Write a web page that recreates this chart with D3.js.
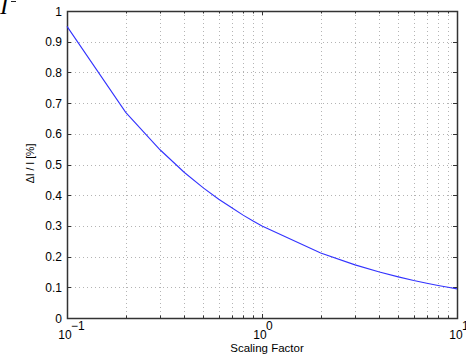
<!DOCTYPE html>
<html>
<head>
<meta charset="utf-8">
<script src="https://cdn.jsdelivr.net/npm/d3@7"></script>
<style>
  body { margin: 0; background: #fff; }
  text { font-family: "Liberation Sans", Arial, sans-serif; fill: #000; }
</style>
</head>
<body>
<div id="chart"></div>
<script>
// values
const scaling = [0.1, 0.2, 0.3, 0.4, 0.5, 0.6, 0.7, 0.8, 0.9, 1, 2, 3, 4, 5, 6, 7, 8, 9, 10];
const deltaI = [0.95, 0.67, 0.548, 0.474, 0.424, 0.387, 0.359, 0.335, 0.316, 0.30,
  0.212, 0.173, 0.15, 0.134, 0.122, 0.113, 0.106, 0.1, 0.095];
const yTicks = [0, 0.1, 0.2, 0.3, 0.4, 0.5, 0.6, 0.7, 0.8, 0.9, 1];
const xMajor = [0.1, 1, 10];
const xExp = ['−1', '0', '1'];

const W = 466, H = 356;
const margin = { top: 11, right: 9, bottom: 38, left: 67 };
const width = W - margin.left - margin.right;
const height = H - margin.top - margin.bottom;

const svg = d3.select('#chart').append('svg')
  .attr('width', W).attr('height', H);

// cropped glyph at the top-left corner
svg.append('text')
  .attr('x', 0).attr('y', 14)
  .style('font-family', '"Liberation Serif", "Times New Roman", serif')
  .style('font-style', 'italic')
  .style('font-size', '24px')
  .text('I');
svg.append('line')
  .attr('x1', 11).attr('x2', 16).attr('y1', 1.5).attr('y2', 1.5)
  .attr('stroke', '#222').attr('stroke-width', 1);

const g = svg.append('g')
  .attr('transform', `translate(${margin.left},${margin.top})`);

const x = d3.scaleLog().domain([0.1, 10]).range([0, width]);
const y = d3.scaleLinear().domain([0, 1]).range([height, 0]);

// grid: all decade + minor positions
const xGrid = [];
[0.1, 1].forEach(d => { for (let k = 1; k <= 10; k++) xGrid.push(d * k); });
const xGridU = [...new Set(xGrid.map(v => +v.toPrecision(3)))].filter(v => v > 0.1 && v < 10);

g.selectAll('.vgrid').data(xGridU).enter().append('line')
  .attr('class', 'vgrid')
  .attr('x1', d => Math.round(x(d)) + 0.5).attr('x2', d => Math.round(x(d)) + 0.5)
  .attr('y1', 0).attr('y2', height)
  .attr('stroke', '#b4b4b4').attr('stroke-width', 1)
  .attr('stroke-dasharray', '1,3');

g.selectAll('.hgrid').data(yTicks.slice(1, -1)).enter().append('line')
  .attr('class', 'hgrid')
  .attr('x1', 0).attr('x2', width)
  .attr('y1', d => Math.round(y(d)) + 0.5).attr('y2', d => Math.round(y(d)) + 0.5)
  .attr('stroke', '#b4b4b4').attr('stroke-width', 1)
  .attr('stroke-dasharray', '1,3');

// inward ticks on all four sides
const tickLen = 4;
g.selectAll('.ytl').data(yTicks).enter().append('line')
  .attr('x1', 0).attr('x2', tickLen)
  .attr('y1', d => Math.round(y(d)) + 0.5).attr('y2', d => Math.round(y(d)) + 0.5)
  .attr('stroke', '#333');
g.selectAll('.ytr').data(yTicks).enter().append('line')
  .attr('x1', width - tickLen).attr('x2', width)
  .attr('y1', d => Math.round(y(d)) + 0.5).attr('y2', d => Math.round(y(d)) + 0.5)
  .attr('stroke', '#333');
const xAllTicks = xGridU.concat(xMajor);
g.selectAll('.xtb').data(xAllTicks).enter().append('line')
  .attr('x1', d => Math.round(x(d)) + 0.5).attr('x2', d => Math.round(x(d)) + 0.5)
  .attr('y1', height).attr('y2', d => height - (xMajor.includes(d) ? tickLen : 2.5))
  .attr('stroke', '#333');
g.selectAll('.xtt').data(xAllTicks).enter().append('line')
  .attr('x1', d => Math.round(x(d)) + 0.5).attr('x2', d => Math.round(x(d)) + 0.5)
  .attr('y1', 0).attr('y2', d => (xMajor.includes(d) ? tickLen : 2.5))
  .attr('stroke', '#333');

// box
g.append('rect')
  .attr('x', 0.5).attr('y', 0.5)
  .attr('width', width).attr('height', height)
  .attr('fill', 'none').attr('stroke', '#333').attr('stroke-width', 1.5);

// curve
g.append('path')
  .datum(scaling.map((s, i) => [s, deltaI[i]]))
  .attr('d', d3.line().x(d => x(d[0])).y(d => y(d[1])))
  .attr('fill', 'none')
  .attr('stroke', '#3333ff')
  .attr('stroke-width', 1.1);

// y tick labels
g.selectAll('.ylab').data(yTicks).enter().append('text')
  .attr('x', -5).attr('y', d => y(d) + 4.5)
  .attr('text-anchor', 'end')
  .style('font-size', '12px')
  .text(d => d3.format('~g')(d));

// x tick labels: 10 with superscript exponent
const xl = g.selectAll('.xlab').data(xMajor).enter().append('g')
  .attr('transform', d => `translate(${x(d)},${height})`);
xl.append('text')
  .attr('x', (d, i) => i === 2 ? -1 : -2).attr('y', 21)
  .attr('text-anchor', 'middle')
  .style('font-size', '12px')
  .text('10');
xl.append('text')
  .attr('x', (d, i) => i === 2 ? 5 : 4).attr('y', 12)
  .style('font-size', '12px')
  .text((d, i) => xExp[i]);

// axis titles
g.append('text')
  .attr('x', x(1) + 5).attr('y', height + 34)
  .attr('text-anchor', 'middle')
  .style('font-size', '11.5px')
  .text('Scaling Factor');

g.append('text')
  .attr('transform', `translate(${-33},${height / 2 - 1}) rotate(-90)`)
  .attr('text-anchor', 'middle')
  .style('font-size', '10.5px')
  .text('ΔI / I  [%]');
</script>
</body>
</html>
